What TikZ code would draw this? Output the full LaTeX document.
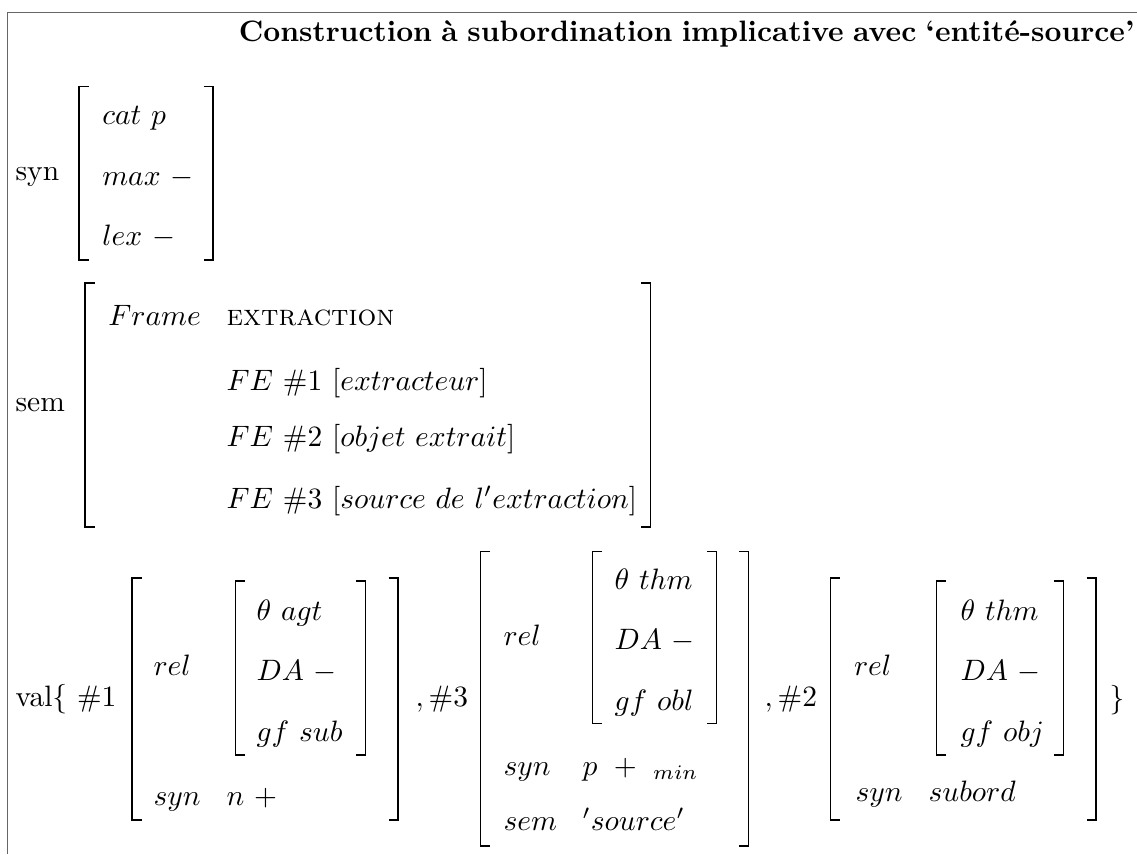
\documentclass[tikz,border=0pt]{standalone}
\usepackage{tikz}

\begin{document}
\begin{tikzpicture}[x=0.339pt,y=-0.339pt,
  brk/.style={line width=0.45pt},
  frm/.style={black!60,line width=0.5pt},
  cell/.style={anchor=base west,inner sep=0pt}]

\useasboundingbox (0,0) rectangle (1137,854);

% frame
\coordinate (TL) at (7.5,12.3);
\coordinate (TR) at (1137,12.3);
\coordinate (BL) at (7.5,854);
\draw[frm] (TR) -- (TL) -- (BL);

\node[anchor=base east,inner sep=0pt] (title) at (1135,41.5)
  {\makebox[303.6pt][s]{\bfseries Construction à subordination implicative avec ‘entité-source’}};

\def\tip{9.5}

% brackets: x/top/bottom
\foreach \x/\t/\b in {79/86.7/260, 85/283/527, 132/578/820, 235.4/581/755,
    480.5/551.7/846, 592.7/551.7/723.3, 830.5/578/820, 936.7/581/755}
  \draw[brk] ({\x+\tip},\t) -- (\x,\t) -- (\x,\b) -- ({\x+\tip},\b);
\foreach \x/\t/\b in {213/86.7/260, 650.7/283/527, 398/578/820, 365.5/581/755,
    748.5/551.7/846, 716.8/551.7/723.3, 1096/578/820, 1063.8/581/755}
  \draw[brk] ({\x-\tip},\t) -- (\x,\t) -- (\x,\b) -- ({\x-\tip},\b);

% syn
\node[cell] (syn) at (15,180) {syn};
\node[cell] (cat) at (101.7,124.3) {$cat\ p$};
\node[cell] (max) at (101.7,185) {$max\ -$};
\node[cell] (lex) at (101.7,245.7) {$lex\ -$};

% sem
\node[cell] (sem) at (15,411.7) {sem};
\node[cell] (frame) at (107.8,325) {$Frame$};
\node[cell] (extr) at (226,325) {\textsc{extraction}};
\node[cell] (fea) at (226,390) {$FE\ \#1\ [extracteur]$};
\node[cell] (feb) at (226,446.7) {$FE\ \#2\ [objet\ extrait]$};
\node[cell] (fec) at (226,508.3) {$FE\ \#3\ [source\ de\ l'extraction]$};

% val
\node[cell] (val) at (15,706.7) {val\{ $\#1$};
\node[cell] (relA) at (153,675) {$rel$};
\node[cell] (thA) at (256,620) {$\theta\ agt$};
\node[cell] (daA) at (256,680) {$DA\ -$};
\node[cell] (gfA) at (256,741.7) {$gf\ sub$};
\node[cell] (synA) at (153,805) {$syn$};
\node[cell] (npl) at (226,805) {$n\ +$};

\node[cell] (sepC) at (415,706.7) {$,\#3$};
\node[cell] (relC) at (503,645) {$rel$};
\node[cell] (thC) at (614,589) {$\theta\ thm$};
\node[cell] (daC) at (614,649) {$DA\ -$};
\node[cell] (gfC) at (614,710) {$gf\ obl$};
\node[cell] (synC) at (503,775) {$syn$};
\node[cell] (ppl) at (582,775) {$p\ +\ {}_{min}$};
\node[cell] (semC) at (503,830) {$sem$};
\node[cell] (src) at (582,830) {$'source'$};

\node[cell] (sepB) at (764,706.7) {$,\#2$};
\node[cell] (relB) at (853.5,675) {$rel$};
\node[cell] (thB) at (960,620) {$\theta\ thm$};
\node[cell] (daB) at (960,680) {$DA\ -$};
\node[cell] (gfB) at (960,741.7) {$gf\ obj$};
\node[cell] (synB) at (855,801.7) {$syn$};
\node[cell] (sub) at (928,801.7) {$subord$};

\node[cell] (close) at (1109,707) {\}};

\end{tikzpicture}
\end{document}
